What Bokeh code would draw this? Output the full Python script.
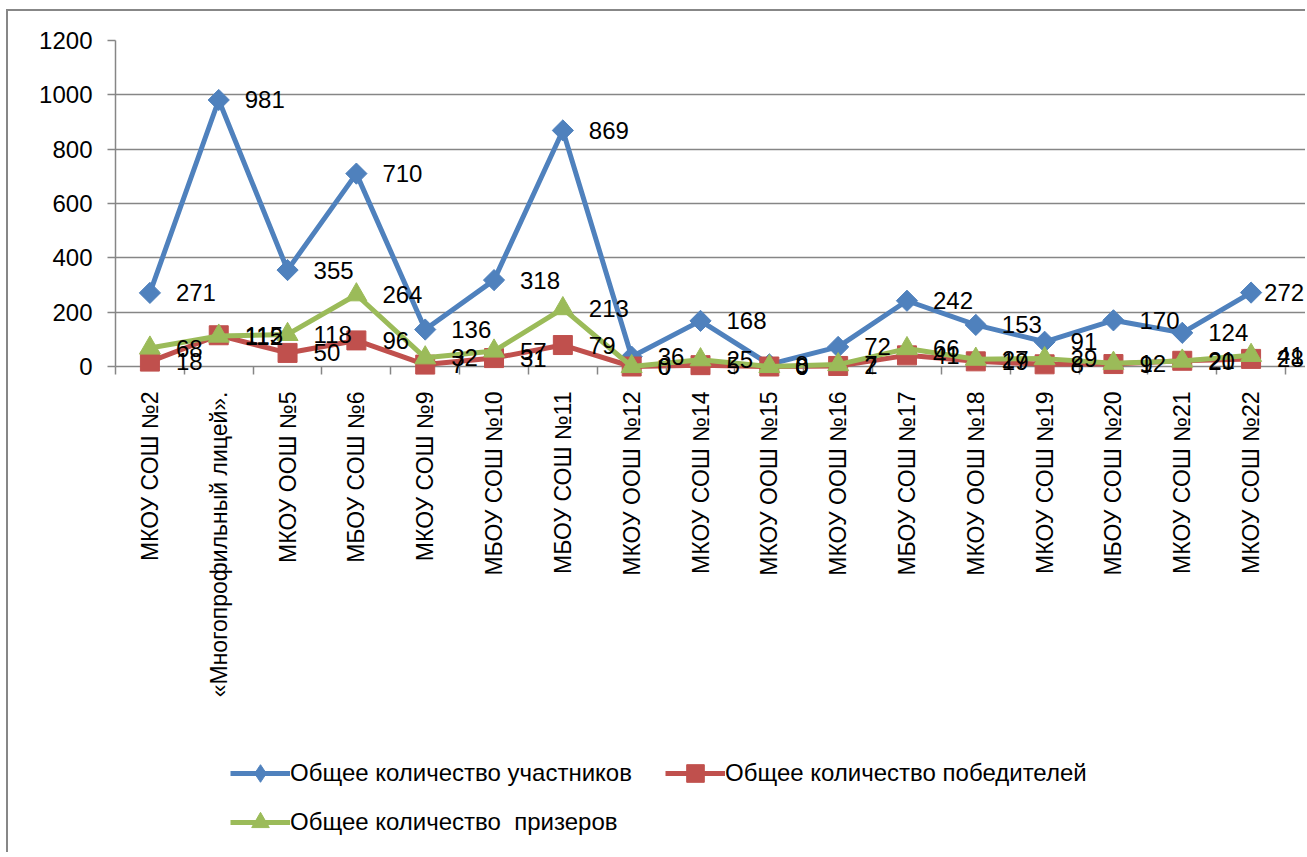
import math
from bokeh.plotting import figure
from bokeh.layouts import column
from bokeh.models import (ColumnDataSource, FixedTicker, LabelSet, Legend, LegendItem,
                          Range1d)
from bokeh.embed import file_html
from bokeh.resources import INLINE
from bokeh.core.properties import value

categories = ["МКОУ СОШ №2", "«Многопрофильный лицей».", "МКОУ ООШ №5", "МБОУ СОШ №6",
              "МКОУ СОШ №9", "МБОУ СОШ №10", "МБОУ СОШ №11", "МКОУ ООШ №12",
              "МКОУ СОШ №14", "МКОУ ООШ №15", "МКОУ ООШ №16", "МБОУ СОШ №17",
              "МКОУ ООШ №18", "МКОУ СОШ №19", "МБОУ СОШ №20", "МКОУ СОШ №21",
              "МКОУ СОШ №22"]
participants = [271, 981, 355, 710, 136, 318, 869, 36, 168, 8, 72, 242, 153, 91, 170, 124, 272]
winners = [18, 115, 50, 96, 7, 31, 79, 0, 5, 0, 2, 41, 19, 8, 9, 21, 28]
prizers = [68, 112, 118, 264, 32, 57, 213, 0, 25, 0, 7, 66, 27, 29, 12, 20, 41]
y_ticks = [0, 200, 400, 600, 800, 1000, 1200]

series_names = ["Общее количество участников", "Общее количество победителей",
                "Общее количество  призеров"]
colors = ["#4F81BD", "#C0504D", "#9BBB59"]

FONT = "Liberation Sans"
GRID = "#868686"

n = len(categories)
xs = list(range(1, n + 1))

# plot geometry (pixels)
W = 1297
FRAME_L = 107           # canvas px
CAT_W = 1170 / n        # px per category
PX_PER_UNIT = 326 / 1200
EXTRA_BOTTOM = 20       # room below the zero line for data labels
x_end = 0.5 + (W - FRAME_L) / CAT_W
y_start = -EXTRA_BOTTOM / PX_PER_UNIT

p = figure(width=W, height=729, x_range=Range1d(0.5, x_end),
           y_range=Range1d(y_start, 1200), output_backend="svg", toolbar_location=None,
           min_border_left=FRAME_L, min_border_right=0, min_border_top=29,
           min_border_bottom=354)
p.outline_line_color = None
p.background_fill_color = "white"
p.border_fill_color = "white"

# x axis: its line is the zero grid line; ticks pulled up to the zero line
xa = p.xaxis[0]
xa.ticker = FixedTicker(ticks=xs, minor_ticks=[i + 0.5 for i in range(n + 1)])
xa.major_label_overrides = {i: c for i, c in zip(xs, categories)}
xa.major_label_orientation = math.pi / 2
xa.major_tick_out = 0
xa.major_tick_in = 0
xa.minor_tick_in = EXTRA_BOTTOM
xa.minor_tick_out = 8 - EXTRA_BOTTOM
xa.minor_tick_line_color = GRID
xa.minor_tick_line_width = 1.5
xa.axis_line_color = None
xa.major_label_text_font = FONT
xa.major_label_text_font_size = "23px"
xa.major_label_text_color = "black"
xa.major_label_standoff = 5

ya = p.yaxis[0]
ya.bounds = (0, 1200)
ya.ticker = FixedTicker(ticks=y_ticks)
ya.major_tick_out = 8
ya.major_tick_in = 0
ya.major_tick_line_color = GRID
ya.major_tick_line_width = 1.5
ya.minor_tick_line_color = None
ya.axis_line_color = GRID
ya.axis_line_width = 1.5
ya.major_label_text_font = FONT
ya.major_label_text_font_size = "24px"
ya.major_label_text_color = "black"
ya.major_label_standoff = 15

p.xgrid.grid_line_color = None
p.ygrid.grid_line_color = GRID
p.ygrid.grid_line_width = 1.5
p.ygrid.bounds = (0.5, n + 0.5)

markers = [("square", math.pi / 4, 15), ("square", 0, 19), ("triangle", 0, 21)]
legend_markers = ["diamond", "square", "triangle"]
sources = []
for k, (vals, col, (mk, ang, sz)) in enumerate(zip([participants, winners, prizers],
                                                    colors, markers)):
    dx = [26] * n
    if k == 0:
        dx[-1] = 13   # last label kept inside the chart, as in the original
    src = ColumnDataSource(dict(x=xs, y=vals, t=[str(v) for v in vals], dx=dx))
    sources.append(src)
    p.line("x", "y", source=src, line_width=5, line_color=col)
    p.scatter("x", "y", source=src, marker=mk, angle=ang, size=sz,
              fill_color=col, line_color=col)

for src in sources:
    p.add_layout(LabelSet(x="x", y="y", text="t", source=src, x_offset="dx",
                          text_baseline="middle", text_align="left",
                          text_font=value(FONT), text_font_size="24px",
                          text_color="black"))

# legend panel underneath
lp = figure(width=W, height=112, output_backend="svg", toolbar_location=None,
            x_axis_type=None, y_axis_type=None, min_border=0,
            min_border_left=0, min_border_right=0, min_border_top=0, min_border_bottom=0)
lp.outline_line_color = None
lp.xgrid.grid_line_color = None
lp.ygrid.grid_line_color = None
lp.border_fill_color = "white"
items = []
for col, name, mk in zip(colors, series_names, legend_markers):
    blank = ColumnDataSource(dict(x=[float("nan")], y=[float("nan")]))
    ln = lp.line("x", "y", source=blank, line_width=5, line_color=col)
    sc = lp.scatter("x", "y", source=blank, marker=mk, size=18,
                    fill_color=col, line_color=col)
    items.append(LegendItem(label=name, renderers=[ln, sc]))

legend = Legend(items=items, orientation="horizontal", ncols=2, location=(115, 8),
                label_text_font=FONT, label_text_font_size="24px",
                label_text_color="black", glyph_width=60, glyph_height=44,
                label_standoff=0, label_width=370, spacing=5, padding=0, margin=0,
                border_line_color=None, background_fill_alpha=0,
                inactive_fill_alpha=0)
lp.add_layout(legend)

layout = column(p, lp, spacing=0,
                styles={"margin-left": "6px", "margin-top": "9px",
                        "border-left": "2px solid #878787",
                        "border-top": "2px solid #878787"})

open("out.html", "w").write(file_html(layout, INLINE))
